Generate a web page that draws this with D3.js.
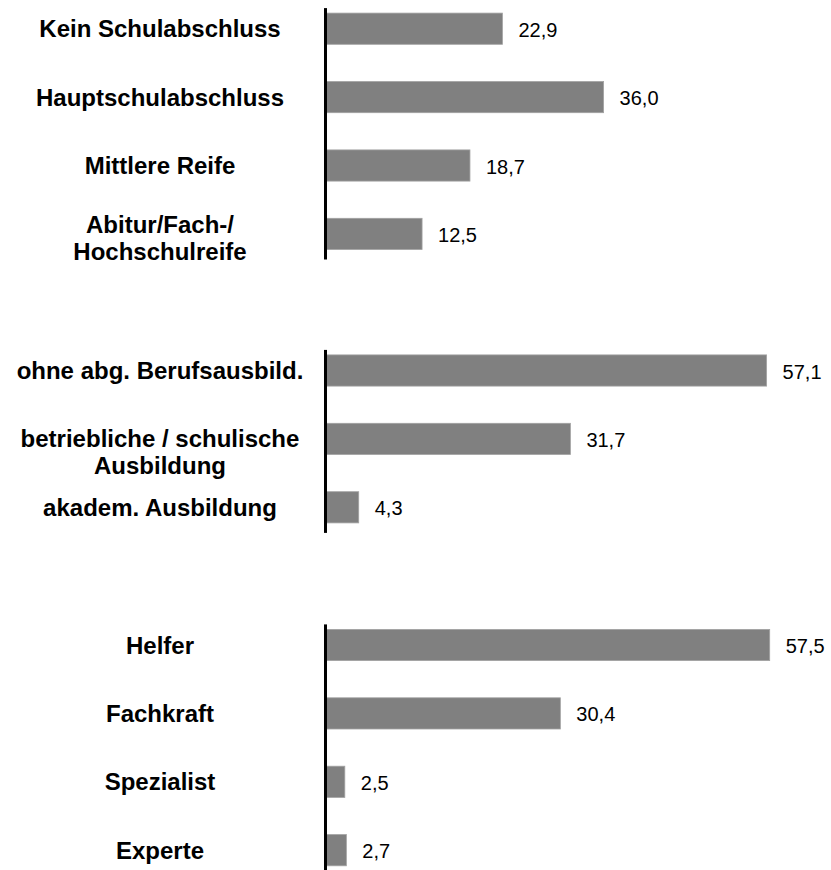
<!DOCTYPE html>
<html>
<head>
<meta charset="utf-8">
<script src="https://cdn.jsdelivr.net/npm/d3@7"></script>
<style>
  body { margin: 0; background: #fff; }
  svg { display: block; }
</style>
</head>
<body>
<svg id="chart" width="831" height="870"></svg>
<script>
// data
const schoolLabels = ["Kein Schulabschluss", "Hauptschulabschluss", "Mittlere Reife", "Abitur/Fach-/\nHochschulreife"];
const schoolValues = [22.9, 36.0, 18.7, 12.5];

const trainingLabels = ["ohne abg. Berufsausbild.", "betriebliche / schulische\nAusbildung", "akadem. Ausbildung"];
const trainingValues = [57.1, 31.7, 4.3];

const levelLabels = ["Helfer", "Fachkraft", "Spezialist", "Experte"];
const levelValues = [57.5, 30.4, 2.5, 2.7];

const width = 831;
const step = 68.4;
const barH = 31.2;
const labelX = 160;
const lineH = 27;

// layout of the three panels (top of first band, shift of wrapped label)
const groups = [
  { labels: schoolLabels, values: schoolValues, top: -5.5, wrapShift: -0.35 },
  { labels: trainingLabels, values: trainingValues, top: 336.3, wrapShift: 0 },
  { labels: levelLabels, values: levelValues, top: 610.8, wrapShift: 0 }
];

const de = d3.formatLocale({ decimal: ",", thousands: ".", grouping: [3], currency: ["", " €"] });
const fmt = de.format(".1f");

const x = d3.scaleLinear().domain([0, 57.5]).range([325.5, 769.7]);

const svg = d3.select("#chart");

groups.forEach(g => {
  const y = d3.scaleBand()
    .domain(g.labels)
    .range([g.top, g.top + step * g.labels.length])
    .paddingInner(1 - barH / step)
    .paddingOuter((1 - barH / step) / 2);

  const rows = g.labels.map((l, i) => ({ label: l, value: g.values[i] }));
  const panel = svg.append("g");

  panel.selectAll("rect")
    .data(rows)
    .join("rect")
    .attr("x", x(0))
    .attr("y", d => y(d.label))
    .attr("width", d => x(d.value) - x(0))
    .attr("height", y.bandwidth())
    .attr("fill", "#808080")
    .attr("stroke", "#a2a2a2")
    .attr("stroke-width", 0.8);

  panel.selectAll("text.value")
    .data(rows)
    .join("text")
    .attr("class", "value")
    .attr("x", d => x(d.value) + 16)
    .attr("y", d => y(d.label) + y.bandwidth() / 2 + 1)
    .attr("dominant-baseline", "central")
    .attr("font-family", "Liberation Sans, Arial, sans-serif")
    .attr("font-size", 20)
    .attr("fill", "#000")
    .text(d => fmt(d.value));

  const cat = panel.selectAll("text.cat")
    .data(rows)
    .join("text")
    .attr("class", "cat")
    .attr("x", labelX)
    .attr("y", d => y(d.label) + y.bandwidth() / 2)
    .attr("text-anchor", "middle")
    .attr("font-family", "Liberation Sans, Arial, sans-serif")
    .attr("font-weight", "bold")
    .attr("font-size", 24)
    .attr("fill", "#000");

  cat.each(function(d) {
    const lines = d.label.split("\n");
    const first = lines.length > 1 ? (lines.length - 1) * lineH * g.wrapShift : 0;
    d3.select(this).selectAll("tspan")
      .data(lines)
      .join("tspan")
      .attr("x", labelX)
      .attr("dy", (l, i) => i === 0 ? first + 8.5 : lineH)
      .text(l => l);
  });

  const y0 = y(g.labels[0]);
  const y1 = y(g.labels[g.labels.length - 1]) + y.bandwidth();
  panel.append("line")
    .attr("x1", x(0)).attr("x2", x(0))
    .attr("y1", y0 - 5).attr("y2", y1 + 10)
    .attr("stroke", "#000")
    .attr("stroke-width", 3);
});
</script>
</body>
</html>
